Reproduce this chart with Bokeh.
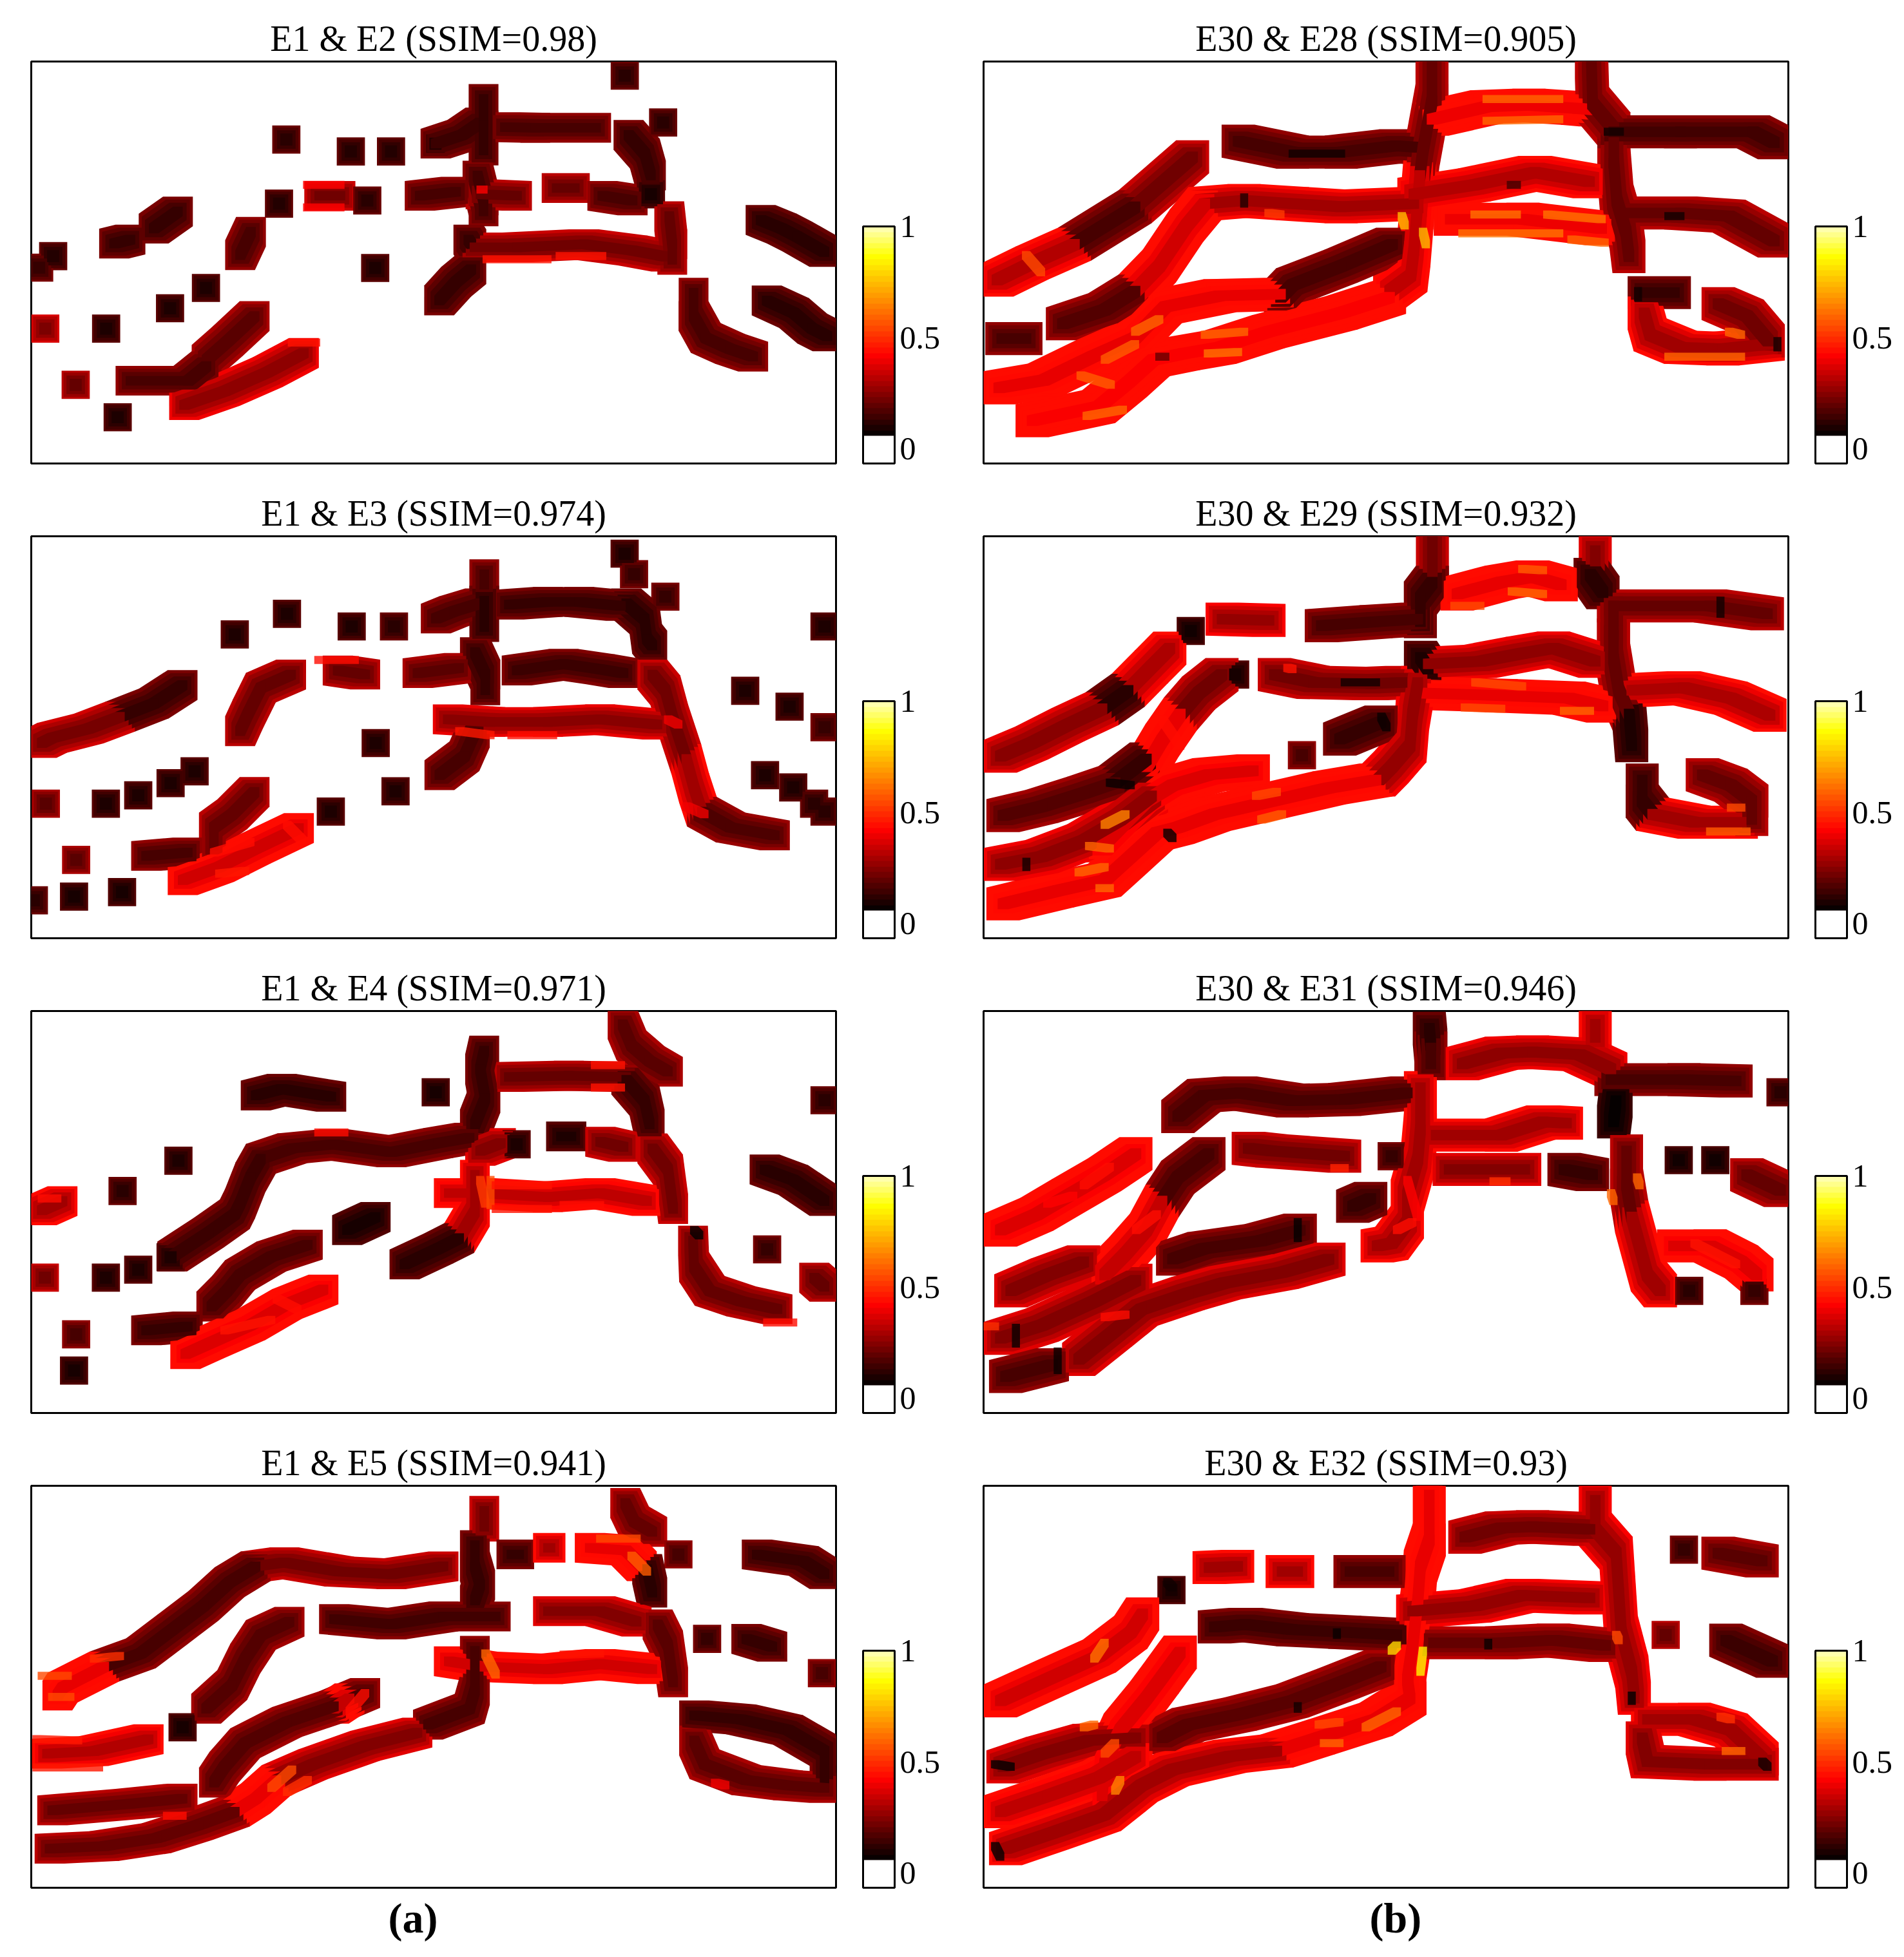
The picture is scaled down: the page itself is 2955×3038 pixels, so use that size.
from bokeh.plotting import figure
from bokeh.models import ColumnDataSource, ColorBar, LinearColorMapper, FixedTicker, Title, Range1d
from bokeh.layouts import column, row
from bokeh.embed import file_html
from bokeh.resources import INLINE

TITLES_A = ["E1 & E2 (SSIM=0.98)", "E1 & E3 (SSIM=0.974)", "E1 & E4 (SSIM=0.971)", "E1 & E5 (SSIM=0.941)"]
TITLES_B = ["E30 & E28 (SSIM=0.905)", "E30 & E29 (SSIM=0.932)", "E30 & E31 (SSIM=0.946)", "E30 & E32 (SSIM=0.93)"]
CAPTIONS = ["(a)", "(b)"]
CBAR_TICKS = [0, 0.5, 1]
CBAR_LOW, CBAR_HIGH = -0.066, 1.0
CBAR_LEVELS = 43

# Colormap anchors: value, r, g, b
HOT_STOPS = [(0.057, 0, 0, 0), (0.42, 255, 0, 0), (0.865, 255, 255, 0), (1.0, 255, 255, 190)]

# Axis limits of each panel in the units the strokes below were read in
LIM_A1 = (52, 1374, 1482, 195)
LIM_B1 = (50, 1378, 1482, 195)
LIM_A2 = (10, 1552, 1530, 6)
LIM_B2 = (8, 1550, 1530, 6)
LIM_A3 = (10, 1552, 1523, 0)
LIM_B3 = (8, 1550, 1523, 0)
LIM_A4 = (10, 1552, 1518, -5)
LIM_B4 = (8, 1550, 1518, -5)

# Each stroke: x list, y list, similarity value
A1 = [
 ([1027],[240],.1),([471],[445],.1),([577],[483],.09),([643],[483],.09),
 ([716],[458],.09),([716,760,790],[458,430,390],.13),([795,795,795],[315,400,480],.12),
 ([785,795,795],[560,640,675],.14),([830,880,980],[405,407,407],.15),
 ([1033,1060,1070],[430,490,560],.12),([1090],[390],.1),([525,560],[625,625],.22),([604],[640],.1),
 ([690,750],[625,612],.15),([790,850],[620,625],.2),([915,945],[600,600],.2),([990,1040],[625,640],.15),
 ([1070],[620],.07),([459],[650],.09),([293,253],[675,730],.12),([188,215],[778,765],.12),
 ([88],[818],.09),([65],[855],.12),([413,395],[740,815],.15),([617],[856],.08),([339],[920],.08),([280],[985],.08),
 ([175],[1050],.08),([75],[1050],.24),([419,375,340],[1010,1090,1150],.18),
 ([215,310,340],[1217,1217,1170],.15),([125],[1230],.2),([194],[1334],.08),
 ([500,440,370,303],[1128,1190,1250,1295],.27),
 ([770,775],[765,780],.12),([780,850,960,1040,1095],[790,790,780,800,820],.22),
 ([1100,1105,1105],[690,780,830],.2),([775,750,722],[860,900,960],.12),
 ([1140,1140,1160,1200,1238],[935,1010,1080,1115,1140],.15),
 ([1250,1285,1310,1355],[702,730,755,805],.1),([1260,1305,1335,1360],[960,1000,1050,1075],.1),
]
B1 = [
 ([395,300],[500,660],.22),([300,200],[660,780],.15),([200,130,72],[780,840,895],.33),
 ([470,560,640,730,770],[450,485,485,465,470],.15),
 ([790,790,775,770],[195,320,480,560],.2),([770,765,760,755,720],[560,680,800,880,930],.35),
 ([790,880,950,1030,1060],[380,340,335,345,350],.43),
 ([1053,1055,1090,1090,1095,1110,1115],[195,330,410,520,640,740,820],.2),
 ([1090,1200,1320,1355],[420,420,420,455],.14),
 ([415,480,560,640,760],[650,640,650,660,650],.3),([760,860,960,1050],[620,590,550,580],.33),
 ([415,385,340,300],[650,720,850,930],.38),([300,250,180],[930,990,1035],.17),
 ([820,940,1070],[700,700,730],.43),([1110,1200,1280,1355],[680,680,690,770],.2),
 ([80,120],[1082,1082],.15),
 ([725,640,560,540],[780,850,910,950],.15),
 ([720,640,520,440,380,330,290,240,130],[950,1000,1060,1110,1130,1150,1220,1300,1345],.45),
 ([75,150,230,300,350,440,540],[1240,1215,1140,1080,980,945,940],.42),
 ([1140,1190],[935,935],.12),([1140,1150,1200,1270,1345],[1000,1070,1110,1115,1100],.3),
 ([1262,1310,1345],[970,1010,1090],.22),
]
A2 = [
 ([1147],[72],.08),([1165],[150],.12),([1225],[235],.12),([1150,1185,1190,1200],[260,320,395,420],.1),
 ([878,878],[150,190],.15),([785,820,870],[318,290,260],.15),([878,878],[250,350],.1),
 ([925,1000,1060,1140],[265,255,255,270],.12),([860,880,880],[445,530,590],.12),
 ([400],[378],.08),([500],[300],.08),([624],[348],.08),([705],[348],.1),
 ([597,650],[515,530],.2),([750,830],[525,505],.18),([940,1030,1100,1145],[515,490,510,525],.13),
 ([1200,1225,1240,1265],[530,590,700,850],.22),([1265,1280,1295],[850,960,1050],.3),([1295,1350,1435],[1050,1110,1140],.16),
 ([300,245,180],[570,640,690],.12),([180,120,50,30],[690,735,770,790],.23),
 ([508,450,425,410],[530,580,680,745],.2),
 ([670],[790],.08),([1378],[592],.08),([1463],[652],.08),([1530],[348],.08),([1530],[730],.12),
 ([808,890,1000,1100,1210],[700,710,710,700,720],.26),([860,840,792],[750,840,912],.15),
 ([38],[1020],.18),([153],[1020],.08),([215],[988],.08),([277],[942],.08),([323],[897],.08),
 ([708],[973],.08),([584],[1050],.08),([1416],[912],.08),([1470],[958],.08),([1510],[1020],.1),([1530],[1050],.1),
 ([438,395,360,360],[975,1060,1110,1180],.2),([230,310],[1218,1205],.15),([96],[1233],.18),
 ([523,440,370,300],[1112,1190,1260,1310],.38),
 ([92],[1372],.07),([184],[1355],.07),([15],[1386],.1),
]
B2 = [
 ([868,868],[6,180],.22),([868,845,845],[180,240,330],.12),([1180,1180],[60,100],.25),([1170,1195],[150,220],.1),
 ([915,1000,1060,1115],[225,180,160,190],.42),([1215,1400,1510],[270,270,300],.2),
 ([1215,1215,1215,1225,1245],[270,380,470,590,680],.2),([1245,1250],[680,800],.08),
 ([465,555],[320,325],.28),([405],[365],.06),([365,330,285],[430,500,590],.32),([285,235],[590,660],.1),
 ([235,170,100,40],[660,720,790,840],.26),([655,760,840],[345,330,320],.15),
 ([845,860],[465,510],.08),([860,960,1040,1100,1180],[490,480,450,430,480],.27),
 ([490],[530],.07),([465,420,385],[530,600,680],.22),([385,350,320],[680,780,880],.42),
 ([565,640,750,810],[530,560,565,560],.22),([840,1000,1130,1195],[600,610,620,650],.42),
 ([1250,1350,1440,1515],[590,580,620,685],.32),([840,830,825,790,765],[560,680,800,880,930],.28),
 ([618],[836],.15),([690,770],[775,710],.12),
 ([525,440,370,320,280,235],[895,910,950,1010,1090,1180],.4),
 ([320,260],[850,940],.12),([260,200,120,45],[940,980,1030,1065],.17),
 ([760,670,560,450,380],[930,960,1010,1060,1110],.42),([380,340,290,240,150,45],[1110,1130,1220,1310,1350,1400],.42),
 ([40,120,200,270,330],[1250,1220,1160,1080,990],.27),
 ([1270,1270,1290],[930,1010,1060],.12),([1290,1370,1460],[1060,1090,1090],.3),
 ([1385,1440,1480,1480],[910,950,1010,1080],.2),
]
A3 = [
 ([1143,1160,1195,1230],[50,130,190,230],.18),([878,870,880,860],[150,220,330,430],.12),
 ([925,1040,1150],[250,245,250],.2),([1150,1185,1195],[260,340,430],.12),
 ([440,490,585],[320,295,325],.1),([785],[308],.07),([292],[567],.08),([185],[682],.1),([1530],[338],.1),
 ([450,510,590,700,790,850],[560,520,505,535,500,480],.15),
 ([450,430,410,400,350,280],[560,630,730,770,840,930],.13),
 ([870,910],[530,500],.25),([940],[505],.08),([1025,1045],[475,475],.08),([1100,1145],[495,515],.22),
 ([1200,1230,1240],[520,600,750],.22),([810,870,1000,1100,1190],[690,690,705,690,720],.35),
 ([860,860,830],[620,760,860],.3),([830,790,725],[860,900,960],.1),
 ([1415,1470,1530],[600,640,720],.1),([70,30],[720,755],.3),([36],[1010],.22),([153],[1010],.08),([215],[980],.08),([277],[933],.08),
 ([615,670],[830,780],.07),([540,470,410,385,355],[885,930,1000,1060,1120],.15),
 ([230,310],[1210,1195],.12),([96],[1225],.15),([92],[1362],.07),
 ([570,500,430,350,305],[1055,1110,1190,1260,1300],.4),
 ([1278,1280,1310,1370,1440],[870,970,1060,1100,1130],.2),([1420],[903],.12),([1510,1530],[1010,1045],.2),
]
B3 = [
 ([862,865],[65,130],.1),([865,865],[140,200],.15),([1180,1180],[50,100],.3),
 ([925,1000,1060,1150,1210],[200,160,155,165,220],.27),([1210,1350,1450],[260,260,265],.15),
 ([1535],[308],.1),([1220,1215],[340,420],.04),([380,430,500,600,700,820],[400,320,310,340,335,310],.15),
 ([845,845,840,820,820,790,762],[290,450,560,700,800,880,890],.3),
 ([875,1000,1080,1125],[470,470,420,425],.3),([900,1045],[600,600],.25),([1120,1175],[600,620],.12),
 ([1240,1240,1250],[530,660,780],.2),([1250,1265,1280,1305],[780,890,1000,1060],.3),
 ([300,240,170,110,40],[540,620,700,770,830],.4),
 ([440,380,350],[540,630,720],.15),([350,320,280,240],[720,830,920,1000],.36),
 ([515,560,700],[520,530,550],.22),([790],[550],.12),([715,750],[740,710],.12),
 ([615,540,430,370],[830,870,900,940],.15),([670,580,470,400],[940,990,1030,1070],.25),
 ([400,310,260,190],[1070,1130,1210,1320],.25),([200,130,60],[950,1000,1060],.25),
 ([40,120,220,300],[1240,1190,1100,1020],.25),([50,100,140],[1385,1360,1340],.15),
 ([1330,1400,1460,1490],[890,890,950,1000],.4),([1360],[1060],.1),([1485],[1060],.12),
 ([1340],[565],.06),([1410],[565],.06),([1535,1470],[680,620],.2),
]
A4 = [
 ([1148,1165,1200],[60,130,170],.2),([878,878],[90,150],.22),([860,860,870,860],[220,300,370,430],.12),
 ([440,495,600,700,800],[300,285,320,330,300],.22),([440,390,340,280,220,150],[300,360,450,540,630,680],.15),
 ([150,70,60],[680,760,790],.42),([930,945],[255,255],.12),([1000,1005],[230,230],.3),
 ([1080,1150,1180],[230,240,300],.42),([1250],[255],.15),([1400,1490,1530],[255,280,330],.12),
 ([1190,1200],[310,400],.1),([505,450,420,395,345],[510,560,650,750,840],.17),([300],[910],.07),
 ([590,700,800,900],[500,520,490,490],.14),([1000,1100,1170],[470,470,510],.25),
 ([1210,1230,1240],[520,600,740],.18),([1305],[575],.12),([1380,1430],[575,605],.12),([1525],[705],.15),
 ([810,875,1000,1100,1200],[660,680,690,670,690],.38),([860,860,850,770],[620,770,840,900],.15),
 ([750,650,550,480],[930,980,1050,1110],.25),([480,440,400],[1110,1180,1230],.42),
 ([400,330,250,150,45],[1230,1280,1330,1360,1370],.2),([235,130,40],[955,1000,1010],.33),
 ([650,590],[780,830],.16),([620,590],[800,840],.36),([590,500,420,380,360],[830,890,970,1060,1120],.17),
 ([300,200,50],[1180,1200,1225],.2),([1280,1370,1460,1530,1530],[865,880,920,1000,1130],.12),
 ([1280,1300,1380,1460,1530],[960,1050,1110,1130,1140],.18),
]
B4 = [
 ([862,862,845,840,830,820,825,760,650,570],[30,200,300,430,600,730,800,880,950,1000],.42),
 ([1180,1180,1220,1225,1230,1250,1255],[50,160,250,400,550,700,800],.28),
 ([930,1000,1060,1170],[190,155,150,160],.22),([1350],[237],.12),([1415,1500],[250,280],.18),
 ([440,495],[305,300],.3),([580,610],[320,320],.3),([710,785],[320,320],.15),([368],[390],.07),
 ([313,290,230,140,40],[480,550,640,720,810],.38),([450,510,600,700,800],[530,520,540,550,560],.13),
 ([830,950,1040,1170],[470,450,410,420],.28),([870,1000,1100,1200],[590,590,580,600],.2),
 ([1315],[560],.2),([1430,1520],[580,660],.13),
 ([385,350,320,270,240,235],[625,720,800,920,1050,1170],.4),
 ([770,680,600,500,400,350],[680,750,810,860,900,950],.18),
 ([570,480,370,310,240,140,50],[1000,1020,1070,1130,1240,1310,1370],.3),
 ([300,210,120,45],[950,960,1010,1060],.25),([40,130,230,300],[1230,1170,1100,1020],.35),
 ([1280,1370,1440,1500],[880,880,920,1030],.3),([1270,1280,1400,1500],[950,1040,1050,1050],.25),
]

# Local bright streaks and dark spots
S_A1 = [([505,560],[590,590],.42),([505,560],[662,662],.42),([800,900],[828,828],.45),([920,990],[818,818],.45),
        ([480,520],[1095,1095],.45),([790,795],[605,605],.42)]
S_B1 = [([880,1000],[385,380],.6),([880,1000],[315,315],.6),([860,930],[685,685],.62),([980,1070],[685,700],.62),
        ([840,1000],[745,745],.62),([1020,1075],[765,775],.6),([1180,1300],[1140,1140],.6),([1280,1300],[1060,1070],.6),
        ([415,480],[1070,1060],.6),([420,470],[1130,1125],.62),([300,340],[1060,1020],.6),([250,300],[1150,1100],.58),
        ([210,260],[1200,1230],.58),([220,280],[1330,1310],.6),([120,145],[815,870],.55),([520,540],[680,685],.52),
        ([740,745],[690,720],.75),([775,780],[740,780],.75),
        ([480,480],[630,650],.1),([560,640],[490,490],.08),([340,350],[1140,1140],.2),([920,930],[590,590],.15),
        ([1180,1200],[690,690],.08),([1080,1100],[420,420],.08),([1130,1130],[930,950],.08),
        ([1360,1360],[1090,1110],.08)]
S_A2 = [([560,630],[475,475],.44),([830,890],[745,760],.46),([930,1010],[760,760],.44),([360,430],[1205,1165],.44),
        ([370,420],[1285,1275],.46),([500,530],[1100,1160],.44),([1230,1250],[700,720],.4),([1265,1300],[1030,1060],.4)]
S_B2 = [([1020,1080],[215,225],.6),([1040,1080],[130,135],.58),([910,960],[270,270],.55),([930,1000],[655,660],.55),
        ([1120,1170],[668,668],.6),([950,1040],[560,575],.55),([240,280],[1100,1060],.65),([210,250],[1180,1190],.6),
        ([190,240],[1280,1260],.6),([230,250],[1340,1340],.6),([540,580],[1080,1060],.58),([530,570],[990,975],.55),
        ([1400,1470],[1125,1125],.58),([1440,1460],[1035,1035],.55),([590,600],[505,510],.45),([350,385],[700,800],.44),
        ([700,760],[560,560],.08),([90,90],[1240,1260],.08),([360,370],[1130,1150],.06),([250,290],[940,950],.07),
        ([770,780],[690,730],.07),([1420,1420],[250,300],.08)]
S_A3 = [([870,880],[640,730],.52),([890,890],[640,735],.55),([1090,1140],[205,205],.45),([1090,1140],[290,290],.45),
        ([560,610],[460,460],.44),([480,520],[1090,1130],.44),([380,470],[1210,1170],.45),([1030,1100],[735,735],.44),
        ([900,1000],[660,660],.45),([900,1000],[750,750],.45),([1420,1470],[1180,1180],.44),([30,60],[710,710],.44),
        ([1280,1290],[830,850],.03)]
S_B3 = [([200,250],[660,590],.44),([130,180],[730,700],.42),([300,340],[830,770],.44),([820,840],[640,780],.42),
        ([800,830],[830,800],.44),([1370,1450],[880,960],.45),([1210,1215],[690,720],.6),([1260,1265],[630,660],.6),
        ([985,1010],[645,645],.5),([680,700],[595,595],.48),([8,30],[1195,1195],.5),([240,280],[1160,1150],.44),
        ([70,70],[1200,1260],.07),([150,150],[1290,1360],.07),([610,610],[800,860],.06)]
S_A4 = [([30,80],[715,715],.55),([50,85],[795,795],.55),([130,180],[650,640],.5),([1100,1170],[195,195],.55),
        ([1160,1190],[260,320],.58),([470,510],[1140,1070],.55),([500,540],[1155,1110],.5),([880,900],[630,710],.6),
        ([620,650],[850,780],.44),([1030,1100],[635,630],.45),([20,100],[955,960],.46),([20,140],[1062,1062],.46),
        ([270,300],[1245,1245],.44),([1320,1340],[1120,1130],.4)]
S_B4 = [([790,800],[620,600],.8),([845,850],[700,620],.85),([220,240],[650,590],.62),([200,220],[910,900],.6),
        ([240,260],[1010,970],.55),([260,270],[1150,1110],.65),([740,800],[910,850],.6),([660,690],[970,970],.6),
        ([650,690],[900,890],.55),([1430,1460],[1000,1000],.6),([1420,1440],[870,880],.5),([1220,1225],[560,580],.55),
        ([1250,1250],[790,810],.05),([975,975],[590,600],.07),([685,685],[550,560],.07),([30,60],[1050,1060],.06),
        ([30,40],[1360,1400],.06),([1500,1510],[1040,1060],.08),([610,610],[830,840],.08),([360,370],[360,380],.08)]

PANELS_A = [(A1, S_A1, LIM_A1), (A2, S_A2, LIM_A2), (A3, S_A3, LIM_A3), (A4, S_A4, LIM_A4)]
PANELS_B = [(B1, S_B1, LIM_B1), (B2, S_B2, LIM_B2), (B3, S_B3, LIM_B3), (B4, S_B4, LIM_B4)]


def hot(v):
    v = max(HOT_STOPS[0][0], min(HOT_STOPS[-1][0], v))
    for (a, *ca), (b, *cb) in zip(HOT_STOPS, HOT_STOPS[1:]):
        if v <= b:
            t = (v - a) / (b - a)
            return "#%02x%02x%02x" % tuple(int(round(p + (q - p) * t)) for p, q in zip(ca, cb))
    return "#ffffc0"


def hull(pts):
    pts = sorted(set(pts))
    def half(seq):
        out = []
        for p in seq:
            while len(out) > 1 and (out[-1][0]-out[-2][0])*(p[1]-out[-2][1]) - (out[-1][1]-out[-2][1])*(p[0]-out[-2][0]) <= 0:
                out.pop()
            out.append(p)
        return out[:-1]
    return half(pts) + half(pts[::-1])


def swept(x0, y0, x1, y1, hx, hy):
    return hull([(x + a * hx, y + b * hy) for x, y in ((x0, y0), (x1, y1)) for a in (-1, 1) for b in (-1, 1)])


def make_panel(strokes, streaks, lim, title, left, right, bottom, line_half, caption=None, cap_offset=0):
    x0, x1, y0, y1 = lim
    cx = (x1 - x0) / 200.0
    cy = (y0 - y1) / 100.0
    p = figure(frame_width=1249, frame_height=624, output_backend="svg", toolbar_location=None,
               x_range=Range1d(x0, x1), y_range=Range1d(y0, y1),
               min_border_left=left, min_border_right=right, min_border_top=95, min_border_bottom=bottom,
               title=title, background_fill_color="white")
    p.axis.visible = False
    p.grid.visible = False
    p.outline_line_color = "black"
    p.outline_line_width = 3
    p.title.align = "center"
    p.title.text_font = "Liberation Serif"
    p.title.text_font_size = "56px"
    p.title.text_font_style = "normal"
    p.title.text_color = "black"
    p.title.standoff = 10
    # nested layers of each track: rim, two mid bands, core
    for scale_line, half_block, boost in ((1.0, 3.5, 1.0), (.8, 3.0, .6), (.58, 2.3, .25), (.32, 1.5, 0.0)):
        xs, ys, cols = [], [], []
        for sx, sy, v in strokes:
            hc = line_half * scale_line
            if len(sx) == 1:
                sx, sy = [sx[0], sx[0]], [sy[0], sy[0]]
                hc = half_block
            rim = .06 + .3 * v
            for a, b, c, d in zip(sx, sy, sx[1:], sy[1:]):
                poly = swept(a, b, c, d, hc * cx, hc * cy)
                xs.append([q[0] for q in poly])
                ys.append([q[1] for q in poly])
                cols.append(hot(min(.44, v * .85 + .03 + boost * rim)))
        p.patches("xs", "ys", source=ColumnDataSource(dict(xs=xs, ys=ys, c=cols)),
                  fill_color="c", line_color=None)
    xs, ys, cols = [], [], []
    for sx, sy, v in streaks:
        for a, b, c, d in zip(sx, sy, sx[1:], sy[1:]):
            poly = swept(a, b, c, d, 1.0 * cx, 1.0 * cy)
            xs.append([q[0] for q in poly])
            ys.append([q[1] for q in poly])
            cols.append(hot(v))
    p.patches("xs", "ys", source=ColumnDataSource(dict(xs=xs, ys=ys, c=cols)), fill_color="c",
              fill_alpha=.8, line_color=None)
    levels = []
    for i in range(CBAR_LEVELS):
        val = CBAR_LOW + (CBAR_HIGH - CBAR_LOW) * (i + .5) / CBAR_LEVELS
        levels.append("#ffffff" if val < HOT_STOPS[0][0] else hot(val))
    mapper = LinearColorMapper(palette=levels, low=CBAR_LOW, high=CBAR_HIGH)
    cb = ColorBar(color_mapper=mapper, ticker=FixedTicker(ticks=CBAR_TICKS), width=49, height=368,
                  location=(1291, 0), margin=0, padding=0, bar_line_color="black", bar_line_width=3,
                  major_tick_line_color=None, minor_tick_line_color=None, label_standoff=8,
                  major_label_text_font="Liberation Serif", major_label_text_font_size="50px",
                  major_label_text_color="black", background_fill_alpha=0, border_line_color=None,
                  major_label_overrides={0: "0", 0.5: "0.5", 1: "1"})
    p.add_layout(cb, "center")
    if caption:
        t = Title(text=caption, align="left", text_font="Liberation Serif", text_font_size="66px",
                  text_font_style="bold", text_color="black", standoff=16, offset=cap_offset)
        p.add_layout(t, "below")
    return p


rows = []
for i in range(4):
    bottom = 92 if i == 3 else 18
    cap = i == 3
    pa = make_panel(*PANELS_A[i], TITLES_A[i], 48, 181, bottom, 3.7, CAPTIONS[0] if cap else None, 554)
    pb = make_panel(*PANELS_B[i], TITLES_B[i], 48, 164, bottom, 4.1, CAPTIONS[1] if cap else None, 599)
    rows.append(row(pa, pb, spacing=0))
page = column(*rows, spacing=0)
open("out.html", "w").write(file_html(page, INLINE))
